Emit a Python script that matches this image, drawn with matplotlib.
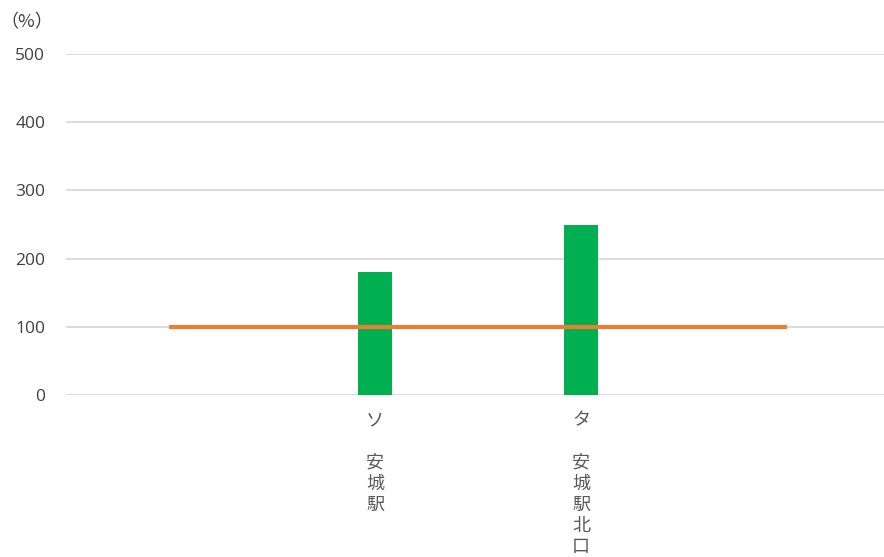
import numpy as np
import matplotlib.pyplot as plt

plt.rcParams['font.family'] = ['Noto Sans CJK JP', 'DejaVu Sans']

# categories (first and last are empty slots)
labels = ['', 'ソ\n\n安\n城\n駅', 'タ\n\n安\n城\n駅\n北\n口', '']
values = [np.nan, 181, 250, np.nan]
baseline = [100, 100, 100, 100]
yticks = [0, 100, 200, 300, 400, 500]

fig = plt.figure(figsize=(8.84, 5.57), dpi=100)
ax = fig.add_axes([66/884, (557-395)/557, 1 - 66/884, (395-54)/557])

x = np.arange(len(labels))
ax.bar(x, values, width=0.165, color='#00B050', zorder=2)
ax.plot(x, baseline, color='#ED7D31', linewidth=3, solid_capstyle='butt', zorder=3)

ax.set_xlim(-0.5, 3.47)
ax.set_ylim(0, 500)
ax.set_yticks(yticks)
ax.set_xticks(x)
ax.set_xticklabels(labels, fontsize=13, color='#595959', linespacing=1.22, va='top')
ax.tick_params(axis='y', length=0, pad=15, labelsize=12.5, labelcolor='#404040')
ax.tick_params(axis='x', length=0, pad=12)
for t in ax.get_yticklabels():
    t.set_fontfamily(['Open Sans', 'DejaVu Sans'])

ax.grid(axis='y', color='#D9D9D9', linewidth=1.3, zorder=0)
ax.set_axisbelow(True)
for s in ax.spines.values():
    s.set_visible(False)

fig.text(0, 1 - 22/557, '（%）', fontsize=13, color='#404040', va='center', ha='left')

fig.savefig('out.png', dpi=100)
